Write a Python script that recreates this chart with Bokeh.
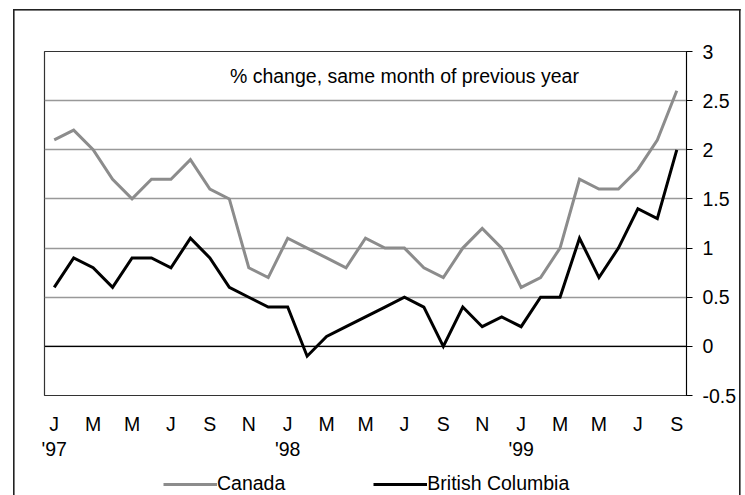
from bokeh.plotting import figure
from bokeh.layouts import column
from bokeh.models import (Range1d, FixedTicker, LinearAxis, Span, Label, Legend,
                          LegendItem, NumeralTickFormatter)
from bokeh.embed import file_html
from bokeh.resources import INLINE

# ---- data ----
month_initials = ["J", "F", "M", "A", "M", "J", "J", "A", "S", "O", "N", "D"] * 3
month_initials = month_initials[:33]          # Jan 1997 .. Sep 1999
year_ticks = [0, 12, 24]
year_labels = ["'97", "'98", "'99"]
canada = [2.1, 2.2, 2.0, 1.7, 1.5, 1.7, 1.7, 1.9, 1.6, 1.5, 0.8, 0.7,
          1.1, 1.0, 0.9, 0.8, 1.1, 1.0, 1.0, 0.8, 0.7, 1.0, 1.2, 1.0,
          0.6, 0.7, 1.0, 1.7, 1.6, 1.6, 1.8, 2.1, 2.6]
bc = [0.6, 0.9, 0.8, 0.6, 0.9, 0.9, 0.8, 1.1, 0.9, 0.6, 0.5, 0.4,
      0.4, -0.1, 0.1, 0.2, 0.3, 0.4, 0.5, 0.4, 0.0, 0.4, 0.2, 0.3,
      0.2, 0.5, 0.5, 1.1, 0.7, 1.0, 1.4, 1.3, 2.0]
series_names = ["Canada", "British Columbia"]
y_ticks = [-0.5, 0, 0.5, 1, 1.5, 2, 2.5, 3]
title_text = "% change, same month of previous year"

x = list(range(len(canada)))
FONT = "Liberation Sans"
FS = "19.5px"
CAN_COLOR = "#8c8c8c"
BC_COLOR = "black"

p = figure(width=745, height=470, output_backend="svg", toolbar_location=None,
           x_range=Range1d(-0.5, 32.5), y_range=Range1d(-0.5, 3),
           y_axis_location="right",
           min_border_left=44, min_border_right=59, min_border_top=51,
           min_border_bottom=75)
p.background_fill_color = "white"
p.border_fill_color = None
p.outline_line_color = "#333333"
p.outline_line_width = 1.2

# y axis (right)
ya = p.yaxis[0]
ya.ticker = FixedTicker(ticks=y_ticks)
ya.formatter = NumeralTickFormatter(format="0.[0]")
ya.major_tick_in = 0
ya.major_tick_out = 6
ya.minor_tick_line_color = None
ya.axis_line_color = "black"
ya.major_tick_line_color = "black"
ya.major_label_standoff = 10
ya.major_label_text_font = FONT
ya.major_label_text_font_size = FS
ya.major_label_text_color = "black"


def plain_axis(axis, standoff):
    axis.axis_line_color = None
    axis.major_tick_line_color = None
    axis.minor_tick_line_color = None
    axis.major_tick_out = 0
    axis.major_tick_in = 0
    axis.minor_tick_out = 0
    axis.minor_tick_in = 0
    axis.major_label_standoff = standoff
    axis.major_label_text_font = FONT
    axis.major_label_text_font_size = FS
    axis.major_label_text_color = "black"


# x axis: month initials
xa = p.xaxis[0]
xa.ticker = FixedTicker(ticks=x[::2])
xa.major_label_overrides = {i: month_initials[i] for i in x[::2]}
plain_axis(xa, 17)

# second x axis: years
xa2 = LinearAxis(ticker=FixedTicker(ticks=year_ticks),
                 major_label_overrides=dict(zip(year_ticks, year_labels)))
plain_axis(xa2, 0)
p.add_layout(xa2, "below")

# grids
p.xgrid.grid_line_color = None
p.ygrid.ticker = FixedTicker(ticks=y_ticks)
p.ygrid.grid_line_color = "#999999"
p.ygrid.grid_line_width = 1.3
p.add_layout(Span(location=0, dimension="width", line_color="black", line_width=1.2))

# series
p.line(x, canada, line_color=CAN_COLOR, line_width=3, line_join="miter")
p.line(x, bc, line_color=BC_COLOR, line_width=3, line_join="miter")

# title text inside plot
p.add_layout(Label(x=18.0, y=2.75, text=title_text, text_align="center",
                   text_baseline="alphabetic", text_font=FONT,
                   text_font_size=FS, text_color="black"))

# ---- legend strip below the chart ----
# (same series drawn out of view, only so the legend can show their line styles)
lf = figure(width=745, height=25, output_backend="svg", toolbar_location=None,
            x_range=Range1d(-0.5, 32.5), y_range=Range1d(100, 101),
            x_axis_location=None, y_axis_location=None,
            min_border_left=0, min_border_right=0, min_border_top=0,
            min_border_bottom=0)
lf.grid.visible = False
lf.outline_line_color = None
lf.background_fill_color = None
lf.border_fill_color = None
l_can = lf.line(x, canada, line_color=CAN_COLOR, line_width=3)
l_bc = lf.line(x, bc, line_color=BC_COLOR, line_width=3)
legend = Legend(items=[LegendItem(label=series_names[0], renderers=[l_can]),
                       LegendItem(label=series_names[1], renderers=[l_bc])],
                location=(119, 0), orientation="horizontal",
                glyph_width=54, glyph_height=18, label_height=18,
                label_standoff=0, spacing=88, padding=0, margin=0,
                border_line_color=None, background_fill_alpha=0,
                label_text_font=FONT, label_text_font_size=FS,
                label_text_color="black")
lf.add_layout(legend, "center")

page = column(p, lf, spacing=0)
# outer frame of the whole graphic
page.styles = {
    "background": ("linear-gradient(#222,#222) 13px 9px / 1.6px 486px no-repeat, "
                   "linear-gradient(#222,#222) 739px 9px / 1.6px 486px no-repeat, "
                   "linear-gradient(#222,#222) 13px 9px / 727.6px 1.6px no-repeat, "
                   "#ffffff")
}

open("out.html", "w").write(file_html(page, INLINE))
